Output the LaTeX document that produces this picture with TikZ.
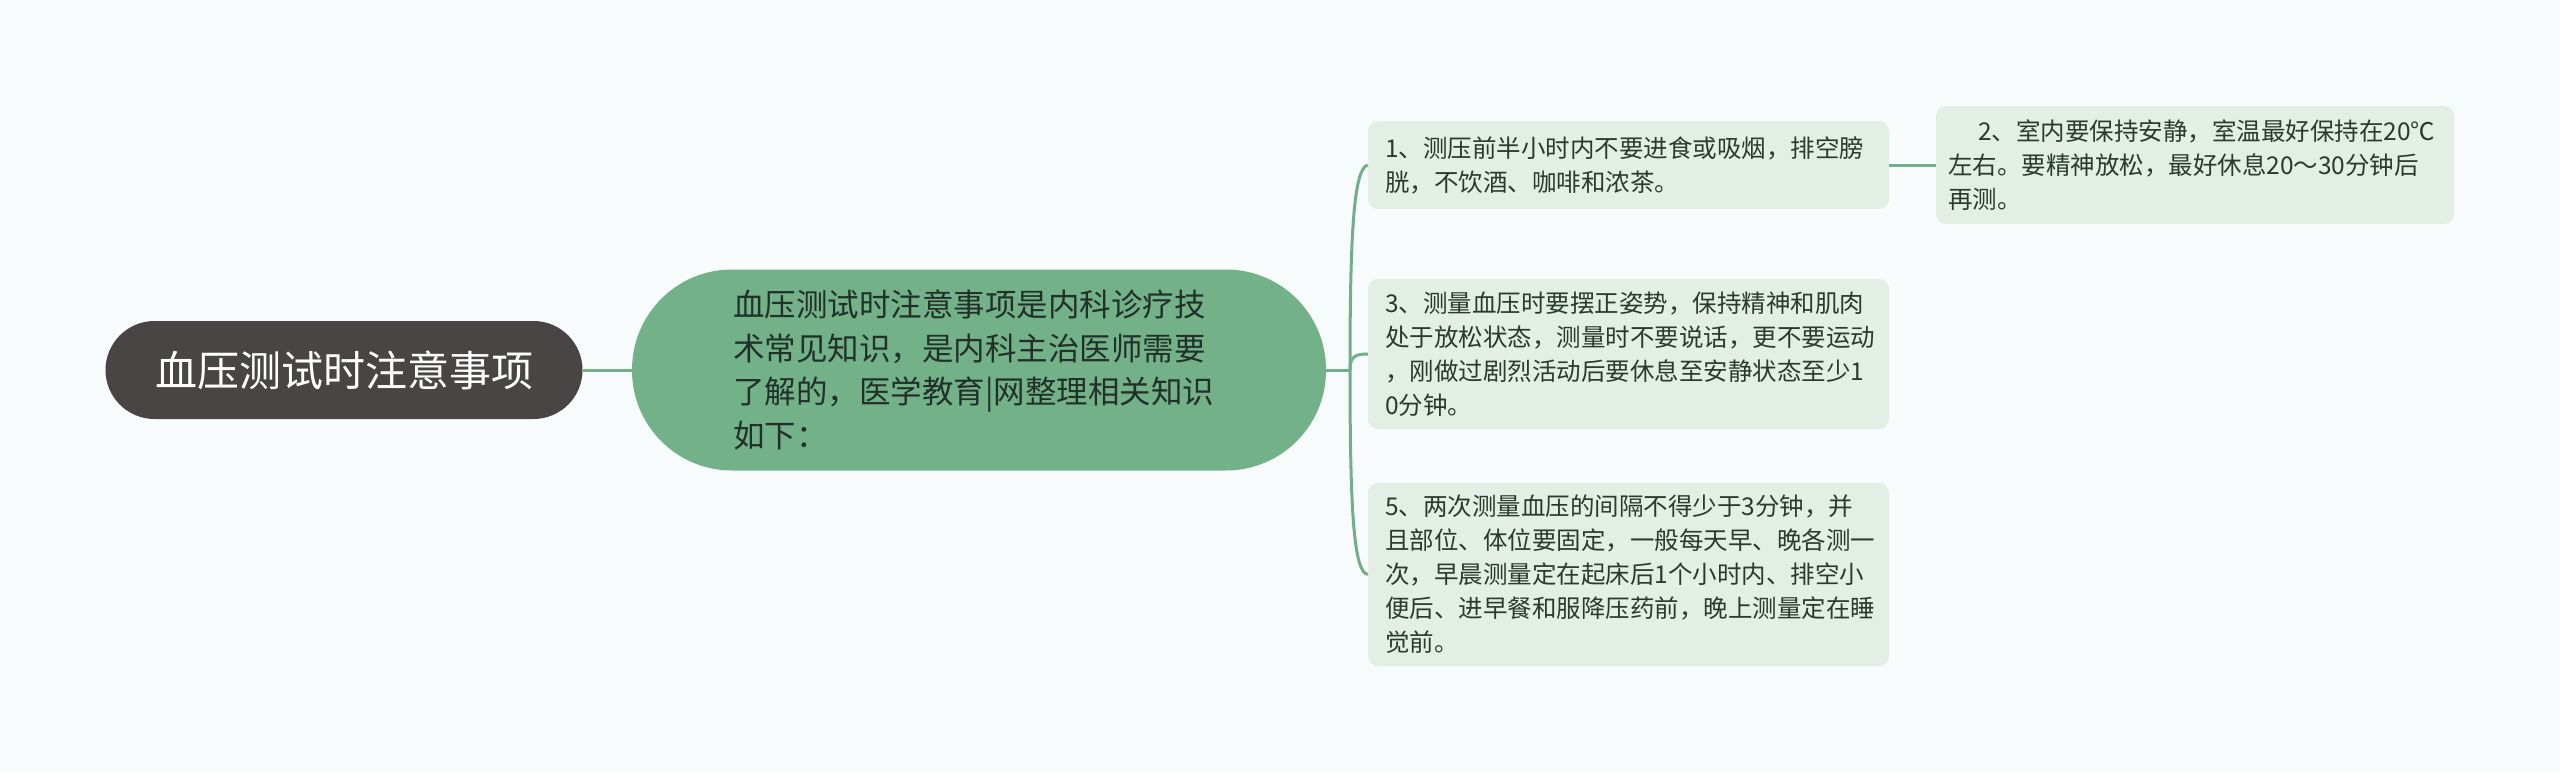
\documentclass[tikz,border=0pt]{standalone}
\usepackage{fontspec}
\setmainfont{Noto Sans CJK SC}
\definecolor{bgcol}{HTML}{F8FBFB}
\definecolor{rootcol}{HTML}{4A4545}
\definecolor{topiccol}{HTML}{73B189}
\definecolor{leafcol}{HTML}{E3EEE5}
\definecolor{linecol}{HTML}{72AE88}
\definecolor{topictext}{HTML}{22302A}
\definecolor{leaftext}{HTML}{2A3A2E}
\newcommand{\Indent}{\hspace*{30pt}}

\begin{document}
\begin{tikzpicture}[x=1pt,y=-1pt,
  root/.style={fill=rootcol, text=white, rounded corners=49pt, minimum width=477pt, minimum height=98pt, inner sep=0pt, font=\fontsize{42pt}{50pt}\selectfont},
  topic/.style={fill=topiccol, text=topictext, rounded corners=100pt, inner xsep=101pt, text width=492pt, minimum height=201pt, align=left, font=\fontsize{31.5pt}{43.5pt}\selectfont},
  leaf/.style={fill=leafcol, text=leaftext, rounded corners=10pt, align=left, inner xsep=17pt, inner ysep=0pt, text width=487pt, font=\fontsize{24.5pt}{34pt}\selectfont},
  branch/.style={draw=linecol, line width=3pt}]

\fill[bgcol] (0,0) rectangle (2560,772);

\draw(344,370) node[root] (R) {血压测试时注意事项};
\draw(979,370) node[topic] (T) {血压测试时注意事项是内科诊疗技\\术常见知识，是内科主治医师需要\\了解的，医学教育|网整理相关知识\\如下：};
\draw(1628.5,165) node[leaf, minimum height=88pt] (L1) {1、测压前半小时内不要进食或吸烟，排空膀\\胱，不饮酒、咖啡和浓茶。};
\draw(2195,165) node[leaf, minimum height=118pt, inner xsep=12pt, text width=494pt] (L2) {\Indent 2、室内要保持安静，室温最好保持在20℃\\左右。要精神放松，最好休息20～30分钟后\\再测。};
\draw(1628.5,354) node[leaf, minimum height=150pt] (L3) {3、测量血压时要摆正姿势，保持精神和肌肉\\处于放松状态，测量时不要说话，更不要运动\\，刚做过剧烈活动后要休息至安静状态至少1\\0分钟。};
\draw(1628.5,574.5) node[leaf, minimum height=183pt] (L5) {5、两次测量血压的间隔不得少于3分钟，并\\且部位、体位要固定，一般每天早、晚各测一\\次，早晨测量定在起床后1个小时内、排空小\\便后、进早餐和服降压药前，晚上测量定在睡\\觉前。};

\coordinate (F) at (1350,370);
\draw[branch] (R.east) -- (T.west);
\draw[branch] (T.east) -- (F);
\draw[branch] (F) .. controls (1350,230) and (1354,168) .. (L1.west);
\draw[branch] (F) .. controls (1350,356) and (1356,354) .. (L3.west);
\draw[branch] (F) .. controls (1350,515) and (1354,572) .. (L5.west);
\draw[branch] (L1.east) -- (L2.west);

\end{tikzpicture}
\end{document}
